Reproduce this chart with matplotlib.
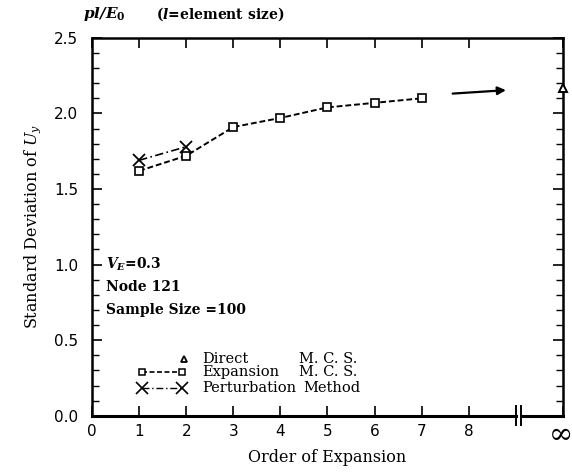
import numpy as np
import matplotlib.pyplot as plt
from matplotlib.ticker import MultipleLocator

plt.rcParams['mathtext.fontset'] = 'dejavuserif'

# data (order 10 stands for infinity)
exp_order = [1, 2, 3, 4, 5, 6, 7]
exp_sd = [1.62, 1.72, 1.91, 1.97, 2.04, 2.07, 2.10]
pert_order = [1, 2]
pert_sd = [1.69, 1.78]
direct_order = [10]
direct_sd = [2.17]
xtick_pos = [0, 1, 2, 3, 4, 5, 6, 7, 8, 10]
xtick_lab = ['0', '1', '2', '3', '4', '5', '6', '7', '8', '']

serif = 'DejaVu Serif'

fig = plt.figure(figsize=(5.72, 4.73), dpi=100)
ax = fig.add_axes([0.161, 0.121, 0.823, 0.799])

ax.plot(exp_order, exp_sd, color='black', ls=(0, (3, 1.5)), lw=1.4,
        marker='s', ms=6, mfc='white', mec='black', mew=1.2)
ax.plot(pert_order, pert_sd, color='black', ls=(0, (5, 2, 1, 2)), lw=1.2,
        marker='x', ms=9, mew=1.3)
ax.plot(direct_order, direct_sd, ls='none', marker='^', ms=6, mfc='white',
        mec='black', mew=1.4, clip_on=False, zorder=5)

# arrow pointing to the infinity limit
ax.annotate('', xy=(8.85, 2.155), xytext=(7.6, 2.13),
            arrowprops=dict(arrowstyle='-|>', color='black', lw=1.6,
                            mutation_scale=12))

ax.set_xlim(0, 10)
ax.set_ylim(0, 2.5)
ax.set_xticks(xtick_pos)
ax.set_xticklabels(xtick_lab)
ax.yaxis.set_major_locator(MultipleLocator(0.5))
ax.yaxis.set_minor_locator(MultipleLocator(0.1))
ax.tick_params(axis='both', which='major', direction='in', length=7, width=1.2,
               labelsize=11, top=True, right=True)
ax.tick_params(axis='y', which='major', pad=10)
ax.tick_params(axis='x', which='major', pad=6)
ax.tick_params(axis='y', which='minor', direction='in', length=5, width=1.0,
               right=True)
for s in ['left', 'right', 'top']:
    ax.spines[s].set_linewidth(1.8)
ax.spines['bottom'].set_visible(False)

# broken bottom axis
tr = ax.get_xaxis_transform()
ax.plot([0, 9.0], [0, 0], color='black', lw=2.2, transform=tr, clip_on=False)
ax.plot([9.12, 10], [0, 0], color='black', lw=2.2, transform=tr, clip_on=False)
for xb in [9.0, 9.12]:
    ax.plot([xb, xb], [-0.025, 0.025], color='black', lw=1.4, transform=tr,
            clip_on=False)
# infinity label drawn by hand so it can be larger
ax.text(9.93, -0.045, r'$\infty$', transform=tr, fontsize=21, ha='center',
        va='center')

ax.set_xlabel('Order of Expansion', family=serif, fontsize=11.5, labelpad=7)
ax.set_ylabel(r'Standard Deviation of $U_y$', family=serif, fontsize=11.5,
              labelpad=8)

# top annotations
ax.text(-0.2, 2.6, r'$\mathbfit{pl/E}_\mathbf{0}$', fontsize=11, ha='left',
        va='bottom', family=serif)
ax.text(1.35, 2.6, r'($\mathbfit{l}$=element size)', fontsize=10,
        ha='left', va='bottom', family=serif, fontweight='bold')

# parameters block
ax.text(0.3, 1.0, r'$\mathbfit{V}_\mathbfit{E}$=0.3', family=serif,
        fontsize=10, va='center', fontweight='bold')
ax.text(0.3, 0.855, 'Node 121', family=serif, fontsize=10, va='center',
        fontweight='bold')
ax.text(0.3, 0.70, 'Sample Size =100', family=serif, fontsize=10, va='center',
        fontweight='bold')

# hand drawn legend
ax.plot([1.95], [0.375], ls='none', marker='^', ms=5, mfc='white', mec='black',
        mew=1.3)
ax.plot([1.05, 1.92], [0.29, 0.29], color='black', ls=(0, (3, 1.5)), lw=1.2,
        marker='s', ms=5, mfc='white', mec='black', mew=1.1)
ax.plot([1.05, 1.92], [0.185, 0.185], color='black', ls=(0, (5, 2, 1, 2)),
        lw=1.0, marker='x', ms=9, mew=1.2)
for yy, name in [(0.375, 'Direct'), (0.29, 'Expansion'), (0.185, 'Perturbation')]:
    ax.text(2.35, yy, name, family=serif, fontsize=10.5, va='center')
ax.text(4.4, 0.375, 'M. C. S.', family=serif, fontsize=10.5, va='center')
ax.text(4.4, 0.29, 'M. C. S.', family=serif, fontsize=10.5, va='center')
ax.text(4.48, 0.185, 'Method', family=serif, fontsize=10.5, va='center')

plt.savefig('out.png', dpi=100)
